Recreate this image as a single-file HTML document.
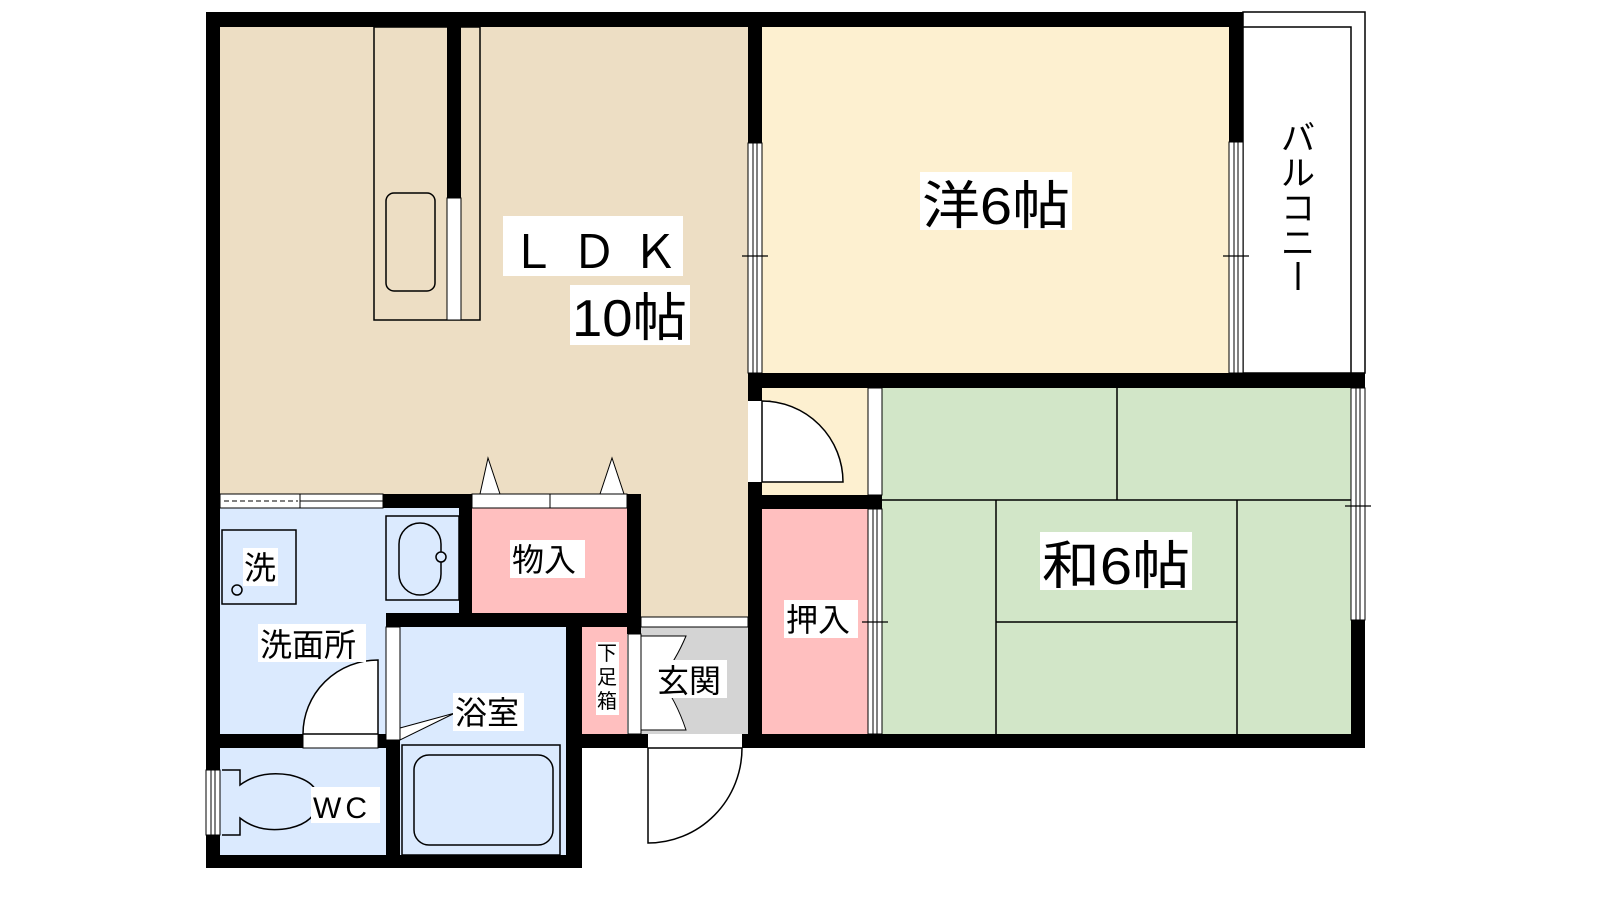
<!DOCTYPE html>
<html><head><meta charset="utf-8"><style>
html,body{margin:0;padding:0;background:#fff;width:1600px;height:900px;overflow:hidden}
text{font-family:"Liberation Sans","Noto Sans CJK JP",sans-serif;fill:#000}
</style></head><body>
<svg width="1600" height="900" viewBox="0 0 1600 900" xmlns="http://www.w3.org/2000/svg">
<!-- floors -->
<rect x="220" y="27" width="528" height="468" fill="#eddec4"/>
<rect x="641" y="494" width="107" height="124" fill="#eddec4"/>
<rect x="762" y="27" width="467" height="346" fill="#fdf0d0"/>
<rect x="762" y="388" width="106" height="107" fill="#fdf0d0"/>
<rect x="882" y="388" width="469" height="346" fill="#d2e6c8"/>
<rect x="762" y="509" width="106" height="225" fill="#ffbfbf"/>
<rect x="472" y="508" width="155" height="105" fill="#ffbfbf"/>
<rect x="582" y="627" width="45" height="107" fill="#ffbfbf"/>
<rect x="641" y="627" width="107" height="107" fill="#d4d4d4"/>
<rect x="220" y="508" width="239" height="226" fill="#dbeafe"/>
<rect x="400" y="627" width="166" height="228" fill="#dbeafe"/>
<rect x="220" y="748" width="166" height="107" fill="#dbeafe"/>
<!-- balcony -->
<rect x="1243" y="12" width="122" height="361" fill="#fff" stroke="#000" stroke-width="1.5"/>
<polyline points="1243,27 1351,27 1351,373" fill="none" stroke="#000" stroke-width="1.5"/>
<!-- tatami lines -->
<g stroke="#000" stroke-width="1.5">
<line x1="882" y1="500" x2="1351" y2="500"/>
<line x1="1117" y1="388" x2="1117" y2="500"/>
<line x1="996" y1="500" x2="996" y2="734"/>
<line x1="1237" y1="500" x2="1237" y2="734"/>
<line x1="996" y1="622" x2="1237" y2="622"/>
</g>
<!-- kitchen -->
<rect x="374" y="27" width="106" height="293" fill="none" stroke="#000" stroke-width="1.5"/>
<rect x="386" y="193" width="49" height="98" rx="8" fill="none" stroke="#000" stroke-width="1.5"/>
<rect x="447" y="198" width="14" height="122" fill="#fff" stroke="#000" stroke-width="1"/>
<rect x="447" y="27" width="14" height="171" fill="#000"/>
<!-- walls -->
<g fill="#000">
<rect x="206" y="12" width="1037" height="15"/>
<rect x="206" y="12" width="14" height="856"/>
<rect x="748" y="27" width="14" height="116"/>
<rect x="1229" y="12" width="14" height="130"/>
<rect x="748" y="373" width="617" height="15"/>
<rect x="748" y="388" width="14" height="13"/>
<rect x="748" y="482" width="14" height="266"/>
<rect x="748" y="495" width="134" height="14"/>
<rect x="1351" y="620" width="14" height="128"/>
<rect x="748" y="734" width="617" height="14"/>
<rect x="383" y="494" width="89" height="14"/>
<rect x="459" y="494" width="13" height="133"/>
<rect x="627" y="494" width="14" height="133"/>
<rect x="386" y="613" width="255" height="14"/>
<rect x="566" y="627" width="16" height="241"/>
<rect x="627" y="627" width="14" height="7"/>
<rect x="206" y="734" width="97" height="14"/>
<rect x="378" y="734" width="22" height="14"/>
<rect x="386" y="740" width="14" height="128"/>
<rect x="206" y="855" width="376" height="13"/>
<rect x="566" y="734" width="82" height="14"/>
<rect x="742" y="734" width="20" height="14"/>
</g>
<!-- windows / fusuma -->
<g fill="#fff" stroke="#000" stroke-width="1">
<rect x="748" y="143" width="14" height="230"/>
<line x1="753" y1="143" x2="753" y2="373"/><line x1="757" y1="143" x2="757" y2="373"/>
<rect x="1229" y="142" width="14" height="231"/>
<line x1="1234" y1="142" x2="1234" y2="373"/><line x1="1238" y1="142" x2="1238" y2="373"/>
<rect x="1351" y="388" width="14" height="232"/>
<line x1="1356" y1="388" x2="1356" y2="620"/><line x1="1360" y1="388" x2="1360" y2="620"/>
<rect x="868" y="388" width="14" height="107"/>
<rect x="868" y="509" width="14" height="225"/>
<line x1="873" y1="509" x2="873" y2="734"/><line x1="877" y1="509" x2="877" y2="734"/>
<rect x="220" y="494" width="80" height="14"/>
<line x1="224" y1="501" x2="298" y2="501" stroke-dasharray="5,3"/>
<rect x="300" y="494" width="83" height="14"/>
<line x1="300" y1="501" x2="383" y2="501"/>
<rect x="472" y="494" width="78" height="14"/>
<rect x="550" y="494" width="77" height="14"/>
<rect x="641" y="617" width="107" height="10"/>
<rect x="386" y="627" width="14" height="113"/>
<rect x="628" y="634" width="13" height="100"/>
<rect x="303" y="734" width="75" height="14"/>
<rect x="206" y="770" width="14" height="65"/>
<line x1="211" y1="770" x2="211" y2="835"/><line x1="215" y1="770" x2="215" y2="835"/>
<rect x="762" y="401" width="8" height="81"/>
</g>
<!-- ticks -->
<g stroke="#000" stroke-width="1.2">
<line x1="742" y1="256" x2="768" y2="256"/><line x1="1223" y1="256" x2="1249" y2="256"/>
<line x1="862" y1="622" x2="888" y2="622"/><line x1="1345" y1="506" x2="1371" y2="506"/>
</g>
<!-- doors -->
<g fill="#fff" stroke="#000" stroke-width="1.5">
<path d="M762,401 A81,81 0 0 1 843,482 L762,482 Z"/>
<path d="M378,660 L378,734 L303,734 A75,74 0 0 1 378,660 Z"/>
<path d="M648,748 L742,748 A94,95 0 0 1 648,843 Z"/>
<path d="M400,728 L455,713 L400,740 Z" stroke-width="1"/>
<path d="M488,494 L480,494 L488,458 L500,494 Z" stroke-width="1"/>
<path d="M612,494 L600,494 L612,458 L624,494 Z" stroke-width="1"/>
<path d="M641,636 L686,636 Q676,660 660,680 Q676,700 686,730 L641,730 Z" stroke-width="1"/>
</g>
<!-- fixtures -->
<g fill="none" stroke="#000" stroke-width="1.5">
<rect x="222" y="530" width="74" height="74"/>
<circle cx="237" cy="590" r="5"/>
<rect x="386" y="516" width="73" height="84"/>
<rect x="399" y="523" width="42" height="72" rx="21"/>
<circle cx="441" cy="557" r="5" fill="#dbeafe"/>
<rect x="402" y="745" width="158" height="110"/>
<rect x="414" y="755" width="139" height="90" rx="15"/>
<path d="M222,770 L240,770 L240,785 Q260,770 290,775 Q320,782 318,802 Q316,822 290,828 Q260,834 240,818 L240,835 L222,835"/>
</g>
<!-- labels -->
<g>
<rect x="503" y="216" width="180" height="60" fill="#fff"/>
<text x="510" y="268" font-size="46" textLength="168" lengthAdjust="spacing">ＬＤＫ</text>
<rect x="570" y="285" width="120" height="60" fill="#fff"/>
<text x="572" y="336" font-size="52" textLength="115" lengthAdjust="spacingAndGlyphs">10帖</text>
<rect x="920" y="172" width="152" height="58" fill="#fff"/>
<text x="922" y="224" font-size="52" textLength="148" lengthAdjust="spacingAndGlyphs">洋6帖</text>
<rect x="1040" y="532" width="152" height="58" fill="#fff"/>
<text x="1042" y="584" font-size="52" textLength="148" lengthAdjust="spacingAndGlyphs">和6帖</text>
<text font-size="34" x="1298" y="150" text-anchor="middle">バ</text>
<text font-size="34" x="1298" y="185" text-anchor="middle">ル</text>
<text font-size="34" x="1298" y="220" text-anchor="middle">コ</text>
<text font-size="34" x="1298" y="255" text-anchor="middle">ニ</text>
<line x1="1298" y1="262" x2="1298" y2="290" stroke="#000" stroke-width="3"/>
<rect x="510" y="540" width="75" height="38" fill="#fff"/>
<text x="512" y="571" font-size="32">物入</text>
<rect x="243" y="548" width="35" height="38" fill="#fff"/>
<text x="244" y="579" font-size="32">洗</text>
<rect x="258" y="624" width="108" height="38" fill="#fff"/>
<text x="260" y="656" font-size="32">洗面所</text>
<rect x="453" y="693" width="71" height="38" fill="#fff"/>
<text x="455" y="724" font-size="32">浴室</text>
<rect x="311" y="787" width="69" height="36" fill="#fff"/>
<text x="313" y="818" font-size="30" letter-spacing="4">WC</text>
<rect x="655" y="660" width="72" height="38" fill="#fff"/>
<text x="657" y="692" font-size="32">玄関</text>
<rect x="596" y="642" width="23" height="73" fill="#fff"/>
<text x="607" y="660" font-size="20" text-anchor="middle">下</text>
<text x="607" y="684" font-size="20" text-anchor="middle">足</text>
<text x="607" y="708" font-size="20" text-anchor="middle">箱</text>
<rect x="784" y="600" width="74" height="38" fill="#fff"/>
<text x="786" y="631" font-size="32">押入</text>
</g>
</svg>
</body></html>
